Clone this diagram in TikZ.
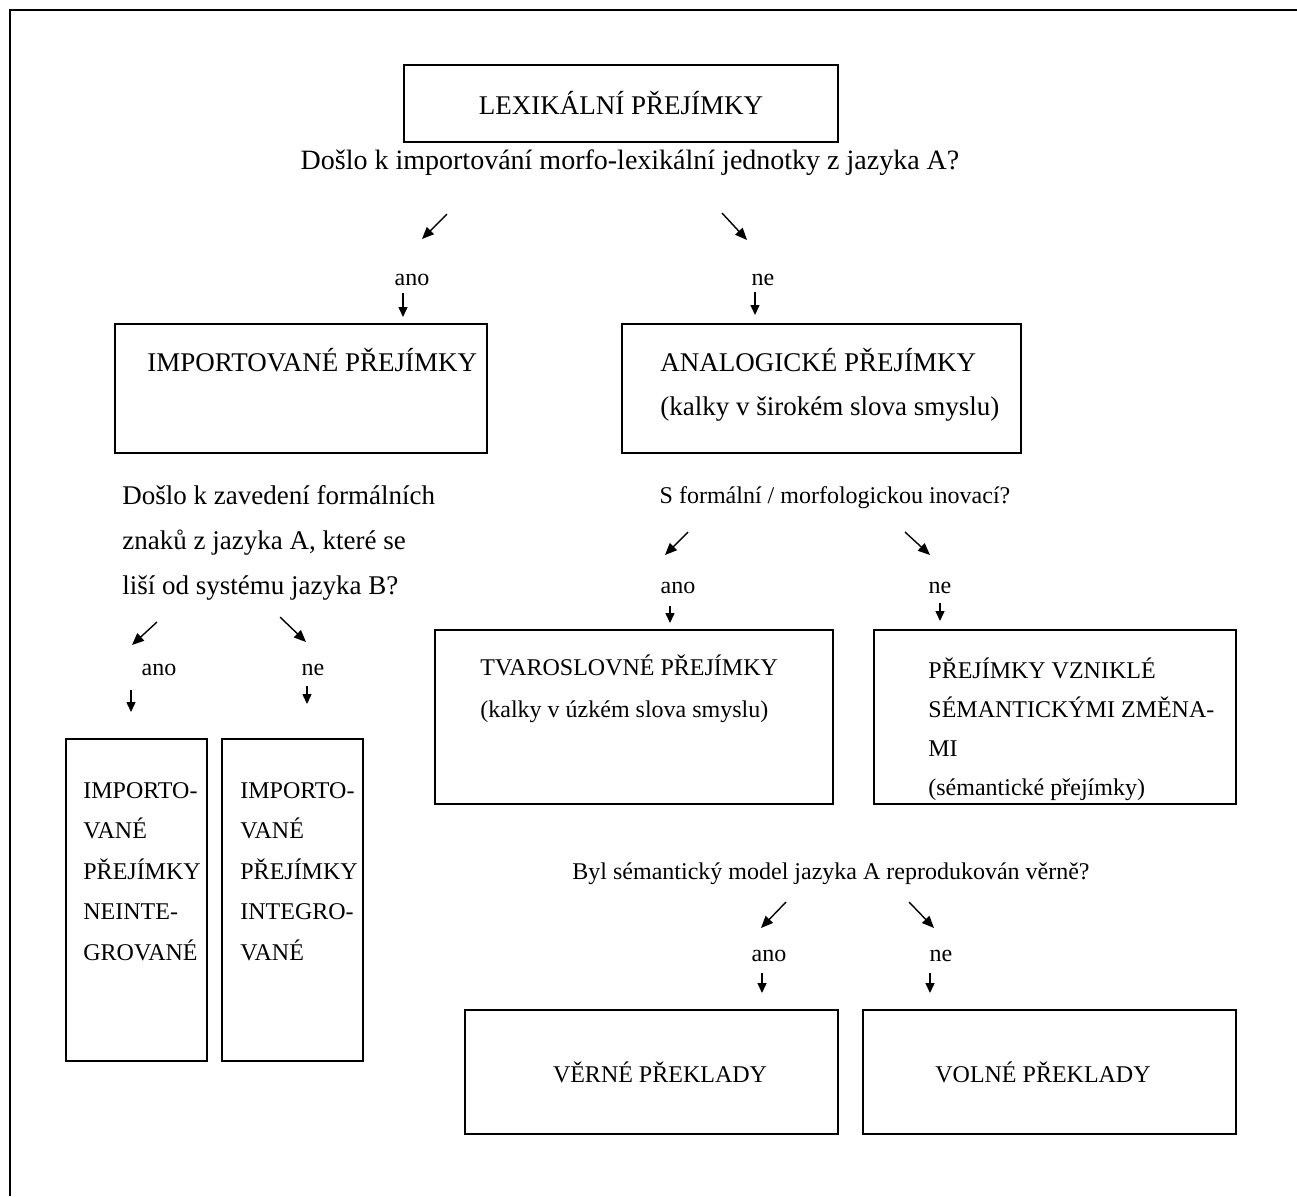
\documentclass[tikz,border=0pt]{standalone}
\usepackage{fontspec}
\setmainfont{Liberation Serif}
\usetikzlibrary{arrows.meta}

\begin{document}
\begin{tikzpicture}[
        x=0.5pt, y=-0.5pt,
        every node/.style={font=\fontsize{12}{14}\selectfont, inner sep=0pt},
        big/.style={font=\fontsize{13.5}{16}\selectfont},
        box/.style={draw, line width=0.8pt},
        txt/.style={anchor=base west, align=left, font=\fontsize{12}{#1}\selectfont},
        txt/.default=20.5pt,
        bigtxt/.style={anchor=base west, align=left, font=\fontsize{13.5}{#1}\selectfont},
        ask/.style={anchor=base},
        arr/.style={line width=0.7pt, -{Triangle[length=5pt,width=4.5pt]}},
        slant/.style={line width=0.7pt, -{Triangle[length=6pt,width=5pt]}}
    ]

        \useasboundingbox (0,0) rectangle (1297,1196);
        \draw[line width=0.9pt] (10,1196) -- (10,10) -- (1297,10);

        \node[box, big, minimum width=217pt, minimum height=38.5pt] (lexBox) at (621,103.5) {LEXIKÁLNÍ PŘEJÍMKY};
        \node[ask, font=\fontsize{14}{16}\selectfont] (askImport) at (630,169) {Došlo k importování morfo-lexikální jednotky z jazyka A?};
        \node[ask] (ano1) at (412,285) {ano};
        \node[ask] (ne1) at (763,285) {ne};

        \node[box, minimum width=186pt, minimum height=64.5pt] (impBox) at (301,388.5) {};
        \node[bigtxt=16pt] (impText) at (147,371) {IMPORTOVANÉ PŘEJÍMKY};
        \node[box, minimum width=199.5pt, minimum height=64.5pt] (anaBox) at (821.5,388.5) {};
        \node[bigtxt=22pt] (anaText) at (660,415) {ANALOGICKÉ PŘEJÍMKY\\(kalky v širokém slova smyslu)};

        \node[bigtxt=22.5pt] (askForm) at (122,594) {Došlo k zavedení formálních\\znaků z jazyka A, které se\\liší od systému jazyka B?};
        \node[ask] (ano2) at (159,675) {ano};
        \node[ask] (ne2) at (313,675) {ne};
        \node[box, minimum width=70.5pt, minimum height=161pt] (neintBox) at (136.5,900) {};
        \node[txt=20.25pt] (neintText) at (83,960) {IMPORTO-\\VANÉ\\PŘEJÍMKY\\NEINTE-\\GROVANÉ};
        \node[box, minimum width=70.5pt, minimum height=161pt] (intBox) at (292.5,900) {};
        \node[txt=20.25pt] (intText) at (240,960) {IMPORTO-\\VANÉ\\PŘEJÍMKY\\INTEGRO-\\VANÉ};

        \node[ask] (askMorph) at (835,503) {S formální / morfologickou inovací?};
        \node[ask] (ano3) at (678,593) {ano};
        \node[ask] (ne3) at (940,593) {ne};
        \node[box, minimum width=199pt, minimum height=87pt] (tvarBox) at (634,717) {};
        \node[txt=21pt] (tvarText) at (480,717) {TVAROSLOVNÉ PŘEJÍMKY\\(kalky v úzkém slova smyslu)};
        \node[box, minimum width=181pt, minimum height=87pt] (semBox) at (1055,717) {};
        \node[txt=19.5pt] (semText) at (928,795) {PŘEJÍMKY VZNIKLÉ\\SÉMANTICKÝMI ZMĚNA-\\MI\\(sémantické přejímky)};

        \node[ask] (askTrue) at (831,879) {Byl sémantický model jazyka A reprodukován věrně?};
        \node[ask] (ano4) at (769,961) {ano};
        \node[ask] (ne4) at (941,961) {ne};
        \node[box, minimum width=186.5pt, minimum height=62pt] (verneBox) at (651.5,1072) {};
        \node (verneText) at (660,1072) {VĚRNÉ PŘEKLADY};
        \node[box, minimum width=186.5pt, minimum height=62pt] (volneBox) at (1049.5,1072) {};
        \node (volneText) at (1043,1072) {VOLNÉ PŘEKLADY};

        \coordinate (q1L) at (447,214);
        \coordinate (q1R) at (722,213);
        \coordinate (q2L) at (157,622);
        \coordinate (q2R) at (280,617);
        \coordinate (q3L) at (688,532);
        \coordinate (q3R) at (905,532);
        \coordinate (q4L) at (786,902);
        \coordinate (q4R) at (909,902);
        \draw[slant] (q1L) -- ++(-25,25);
        \draw[slant] (q1R) -- ++(25,27);
        \draw[slant] (q2L) -- ++(-25,23);
        \draw[slant] (q2R) -- ++(26,25);
        \draw[slant] (q3L) -- ++(-23,23);
        \draw[slant] (q3R) -- ++(25,23);
        \draw[slant] (q4L) -- ++(-25,26);
        \draw[slant] (q4R) -- ++(25,26);

        \coordinate (a1) at (403,293);
        \coordinate (n1) at (755,292);
        \coordinate (a2) at (131,690);
        \coordinate (n2) at (307,686);
        \coordinate (a3) at (670,606);
        \coordinate (n3) at (940,603);
        \coordinate (a4) at (762,973);
        \coordinate (n4) at (930,973);
        \draw[arr] (a1) -- ++(0,24);
        \draw[arr] (n1) -- ++(0,23);
        \draw[arr] (a2) -- ++(0,22);
        \draw[arr] (n2) -- ++(0,18);
        \draw[arr] (a3) -- ++(0,17);
        \draw[arr] (n3) -- ++(0,18);
        \draw[arr] (a4) -- ++(0,20);
        \draw[arr] (n4) -- ++(0,20);

\end{tikzpicture}
\end{document}
